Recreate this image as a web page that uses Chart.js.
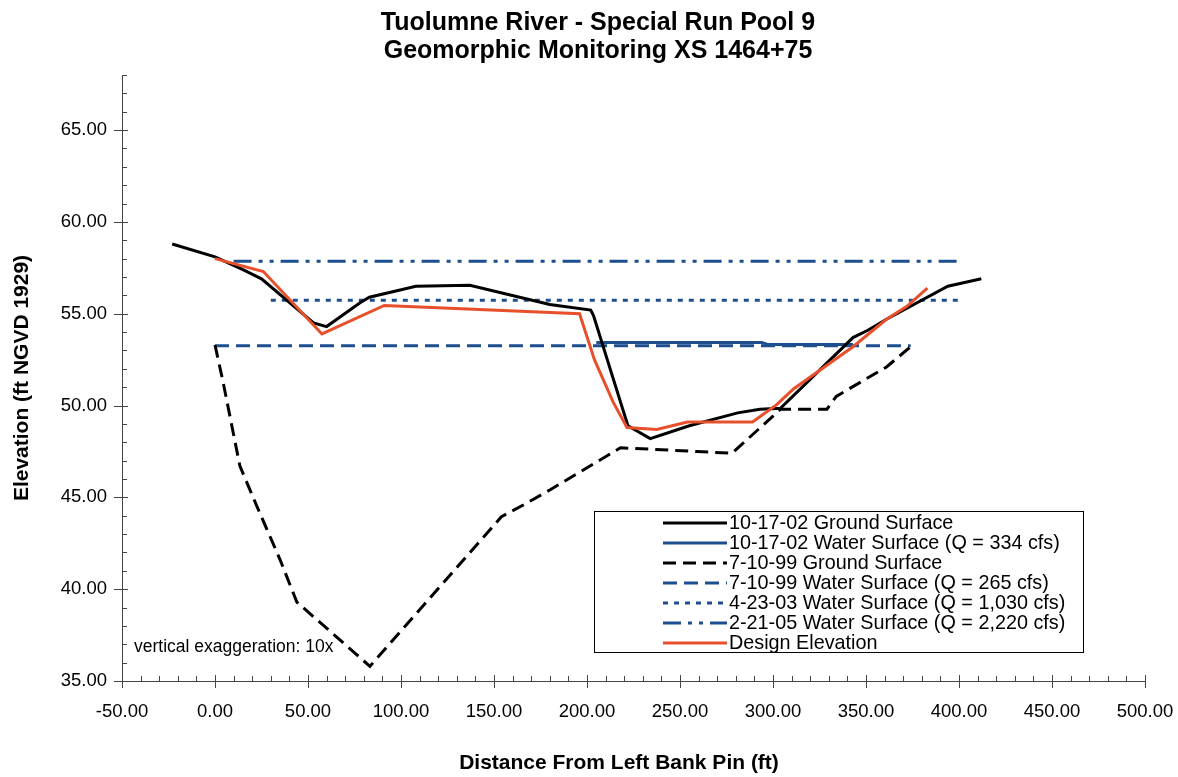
<!DOCTYPE html>
<html>
<head>
<meta charset="utf-8">
<script src="https://cdn.jsdelivr.net/npm/chart.js@4.4.1/dist/chart.umd.min.js"></script>
<style>
  html, body { margin: 0; padding: 0; background: #fff; }
</style>
</head>
<body>
<canvas id="xsChart" width="1178" height="777"></canvas>
<script>
// station (ft from left bank pin) and elevation (ft NGVD 1929)
const ground021017X = [-23, 0, 15, 25, 53, 60, 78, 83, 108, 137, 180, 202, 203.5, 222, 234, 255, 281, 293, 304, 343, 351, 361, 394, 412];
const ground021017Y = [58.8, 58.1, 57.4, 56.9, 54.5, 54.3, 55.6, 55.9, 56.5, 56.55, 55.5, 55.2, 54.9, 48.9, 48.2, 48.9, 49.6, 49.8, 49.85, 53.7, 54.1, 54.7, 56.5, 56.9];

const water021017X = [205, 294, 297, 343];
const water021017Y = [53.43, 53.43, 53.33, 53.33];

const ground990710X = [0, 4.3, 13.4, 22.6, 35, 44, 83.3, 154, 166, 180, 218, 259, 278, 304, 329, 334, 361, 374];
const ground990710Y = [53.3, 51.3, 46.7, 44.5, 41.6, 39.3, 35.8, 43.95, 44.6, 45.4, 47.7, 47.5, 47.4, 49.8, 49.8, 50.5, 52.1, 53.2];

const water990710X = [0, 374];
const water990710Y = [53.25, 53.25];

const water030423X = [30, 400];
const water030423Y = [55.73, 55.73];

const water050221X = [10, 400];
const water050221Y = [57.86, 57.86];

const designX = [0, 26, 57.5, 91, 196, 204, 214, 221.5, 237.5, 254, 289, 302, 311, 343, 361, 372, 383];
const designY = [58.0, 57.3, 53.9, 55.45, 55.0, 52.5, 50.2, 48.8, 48.7, 49.1, 49.1, 50.05, 50.9, 53.2, 54.7, 55.4, 56.4];

const seriesLabels = [
  '10-17-02 Ground Surface',
  '10-17-02 Water Surface (Q = 334 cfs)',
  '7-10-99 Ground Surface',
  '7-10-99 Water Surface (Q = 265 cfs)',
  '4-23-03 Water Surface (Q = 1,030 cfs)',
  '2-21-05 Water Surface (Q = 2,220 cfs)',
  'Design Elevation'
];

const chartTitle = ['Tuolumne River - Special Run Pool 9', 'Geomorphic Monitoring XS 1464+75'];
const xTitle = 'Distance From Left Bank Pin (ft)';
const yTitle = 'Elevation (ft NGVD 1929)';
const note = 'vertical exaggeration: 10x';

const BLUE = '#1d4f8e';
const RED = '#e8502c';
const FONT = '"Liberation Sans", Arial, sans-serif';

function pts(xs, ys) {
  return xs.map((x, i) => ({ x: x, y: ys[i] }));
}

function line(label, data, color, width, dash, order) {
  return {
    label: label,
    data: data,
    borderColor: color,
    backgroundColor: color,
    borderWidth: width,
    borderDash: dash,
    pointRadius: 0,
    tension: 0,
    fill: false,
    order: order
  };
}

// titles, axis ticks, legend box and the note are drawn by hand
const decorPlugin = {
  id: 'decor',
  afterDraw(chart) {
    const ctx = chart.ctx;
    const xs = chart.scales.x;
    const ys = chart.scales.y;
    const axisY = ys.bottom;
    const axisX = xs.left;
    ctx.save();

    ctx.fillStyle = '#000';
    ctx.textAlign = 'center';
    ctx.textBaseline = 'middle';
    ctx.font = 'bold 25px ' + FONT;
    ctx.fillText(chartTitle[0], 598, 23);
    ctx.fillText(chartTitle[1], 598, 51);
    ctx.font = 'bold 21px ' + FONT;
    ctx.fillText(xTitle, 619, 763);

    ctx.strokeStyle = '#444';
    ctx.lineWidth = 1;
    ctx.beginPath();
    for (let v = -50; v <= 500; v += 10) {
      const px = Math.round(xs.getPixelForValue(v)) + 0.5;
      if (v % 50 === 0) {
        ctx.moveTo(px, axisY - 6);
        ctx.lineTo(px, axisY + 7);
      } else {
        ctx.moveTo(px, axisY - 5);
        ctx.lineTo(px, axisY);
      }
    }
    for (let v = 35; v <= 68; v += 1) {
      const py = Math.round(ys.getPixelForValue(v)) + 0.5;
      if (v % 5 === 0) {
        ctx.moveTo(axisX - 8, py);
        ctx.lineTo(axisX + 6, py);
      } else {
        ctx.moveTo(axisX, py);
        ctx.lineTo(axisX + 5, py);
      }
    }
    ctx.stroke();

    // note
    ctx.font = '17.5px ' + FONT;
    ctx.textAlign = 'left';
    ctx.fillText(note, 134, 647);

    // legend
    const box = { l: 594.5, t: 511.5, r: 1083.5, b: 652.5 };
    ctx.fillStyle = '#fff';
    ctx.fillRect(box.l, box.t, box.r - box.l, box.b - box.t);
    ctx.strokeStyle = '#000';
    ctx.lineWidth = 1;
    ctx.setLineDash([]);
    ctx.strokeRect(box.l, box.t, box.r - box.l, box.b - box.t);
    ctx.font = '19.8px ' + FONT;
    chart.data.datasets.forEach((ds, i) => {
      const y = box.t + 11.5 + i * 20;
      ctx.strokeStyle = ds.borderColor;
      ctx.lineWidth = ds.borderWidth;
      ctx.setLineDash(ds.borderDash || []);
      ctx.beginPath();
      ctx.moveTo(663, y);
      ctx.lineTo(727, y);
      ctx.stroke();
      ctx.fillStyle = '#000';
      ctx.fillText(ds.label, 729, y + 1);
    });
    ctx.restore();
  }
};

const keepMajor = step => scale => {
  scale.ticks = scale.ticks.filter(t => Math.abs(t.value % step) < 1e-9);
};

new Chart(document.getElementById('xsChart'), {
  type: 'line',
  data: {
    datasets: [
      line(seriesLabels[0], pts(ground021017X, ground021017Y), '#000', 3, [], 2),
      line(seriesLabels[1], pts(water021017X, water021017Y), BLUE, 3, [], 3),
      line(seriesLabels[2], pts(ground990710X, ground990710Y), '#000', 3, [13, 7], 4),
      line(seriesLabels[3], pts(water990710X, water990710Y), BLUE, 3, [14, 7], 5),
      line(seriesLabels[4], pts(water030423X, water030423Y), BLUE, 3, [5, 6], 6),
      line(seriesLabels[5], pts(water050221X, water050221Y), BLUE, 3, [18, 7, 4, 7, 4, 7], 7),
      line(seriesLabels[6], pts(designX, designY), RED, 3, [], 1)
    ]
  },
  options: {
    responsive: false,
    animation: false,
    layout: { padding: { left: 0, right: 33, top: 75, bottom: 0 } },
    plugins: {
      legend: { display: false },
      tooltip: { enabled: false },
      title: { display: false }
    },
    scales: {
      x: {
        type: 'linear',
        min: -50,
        max: 500,
        afterBuildTicks: keepMajor(50),
        afterFit(scale) {
          scale.height = 96;
          scale.paddingLeft = 0;
          scale.paddingRight = 0;
        },
        grid: { display: false, drawTicks: false },
        border: { display: true, color: '#444', width: 1 },
        ticks: {
          stepSize: 50,
          padding: 20,
          color: '#000',
          maxRotation: 0,
          font: { family: FONT, size: 18.5 },
          callback: v => Number(v).toFixed(2)
        },
        title: { display: false, text: xTitle }
      },
      y: {
        type: 'linear',
        min: 35,
        max: 68,
        afterBuildTicks: keepMajor(5),
        afterFit(scale) {
          scale.width = 122;
          scale.paddingTop = 0;
          scale.paddingBottom = 0;
        },
        grid: { display: false, drawTicks: false },
        border: { display: true, color: '#444', width: 1 },
        ticks: {
          stepSize: 5,
          padding: 15,
          color: '#000',
          font: { family: FONT, size: 18.5 },
          callback: v => Number(v).toFixed(2)
        },
        title: {
          display: true,
          text: yTitle,
          color: '#000',
          font: { family: FONT, size: 21, weight: 'bold' },
          padding: { top: 10, bottom: 0 }
        }
      }
    }
  },
  plugins: [decorPlugin]
});
</script>
</body>
</html>
